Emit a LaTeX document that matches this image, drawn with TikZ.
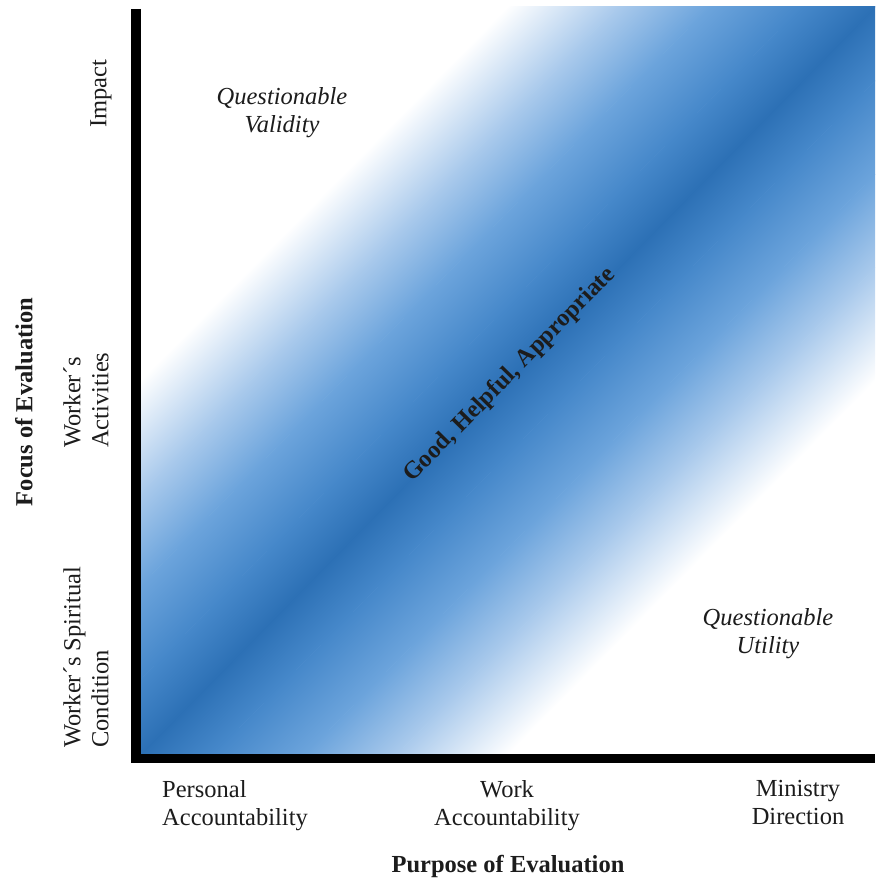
\documentclass[tikz,border=0pt]{standalone}
\usepackage{fontspec}
\setmainfont{Liberation Serif}
\begin{document}
\definecolor{bandC0}{RGB}{44,112,181}
\definecolor{bandC1}{RGB}{70,136,202}
\definecolor{bandC2}{RGB}{108,164,220}
\definecolor{bandC3}{RGB}{170,202,236}
\definecolor{txt}{RGB}{28,28,28}
\begin{tikzpicture}[x=1pt,y=-1pt,
  lbl/.style={inner sep=0pt,text=txt,font=\fontsize{24.5}{28}\selectfont},
  axislbl/.style={lbl,font=\fontsize{24.5}{28}\selectfont\bfseries},
  regionlbl/.style={lbl,align=center,font=\fontsize{24.5}{28}\selectfont\itshape},
  axisline/.style={line width=9.5pt,black,line join=miter}]
\useasboundingbox (0,0) rectangle (875,882);
\fill[white] (0,0) rectangle (875,882);

% diagonal gradient band, clipped to the plot area
\begin{scope}
  \clip (140,7) rectangle (875,754);
  \begin{scope}[transform canvas={shift={(508,380)},rotate=45.5}]
    % stripes on each side of the centre line: (from, to, inner colour, outer colour);
    % neighbouring stripes overlap a little so that no seam shows
    \foreach \a/\b/\ci/\co in {-0.8/52.4/bandC0/bandC1, 52/118/bandC1/bandC2, 117.6/183.4/bandC2/bandC3, 183/262.4/bandC3/white}{
      \shade[top color=\ci,bottom color=\co] (-650,\a) rectangle (650,\b);
      \shade[top color=\co,bottom color=\ci] (-650,-\b) rectangle (650,-\a);
    }
  \end{scope}
\end{scope}

% axes
\coordinate (ytop) at (136,9);
\coordinate (origin) at (136,758.5);
\coordinate (xend) at (875,758.5);
\draw[axisline] (ytop) -- (origin) -- (xend);

% vertical axis labels
\node[lbl,rotate=90,anchor=west] (impact) at (101,128) {Impact};
\node[lbl,rotate=90,anchor=west,align=left] (activities) at (86,448) {Worker´s\\Activities};
\node[lbl,rotate=90,anchor=west,align=left] (spiritual) at (86,748) {Worker´s Spiritual\\Condition};
\node[axislbl,rotate=90] (focus) at (24,402) {Focus of Evaluation};

% horizontal axis labels
\node[lbl,anchor=north west,align=left] (personal) at (162,780) {Personal\\Accountability};
\node[lbl,anchor=north,align=center] (work) at (507,780) {Work\\Accountability};
\node[lbl,anchor=north,align=center] (ministry) at (798,780) {Ministry\\Direction};
\node[axislbl] (purpose) at (508,866) {Purpose of Evaluation};

% region labels
\node[regionlbl] (validity) at (282,113) {Questionable\\Validity};
\node[regionlbl] (utility) at (768,634) {Questionable\\Utility};
\node[axislbl,rotate=45.5] (good) at (510,375) {Good, Helpful, Appropriate};
\end{tikzpicture}
\end{document}
